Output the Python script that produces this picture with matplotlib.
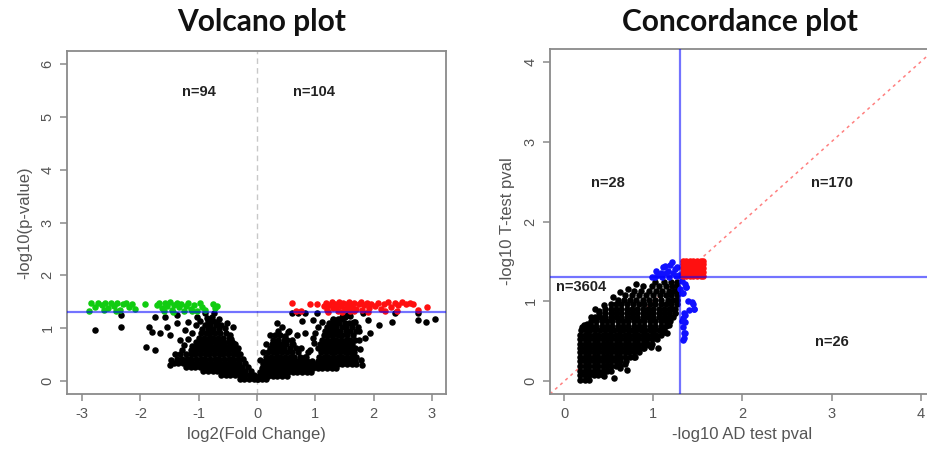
import numpy as np
import matplotlib
matplotlib.use("Agg")
import matplotlib.pyplot as plt

# ---------------- Volcano plot data ----------------
# dense core, rows of (y, [x ...])
volcano_down_core = [
    (0.03, [-0.3, -0.22, -0.14, -0.06, 0.01]),
    (0.11, [-0.62, -0.54, -0.46, -0.38, -0.3, -0.22, -0.14, -0.06]),
    (0.19, [-0.92, -0.84, -0.76, -0.68, -0.6, -0.52, -0.44, -0.36, -0.28, -0.2, -0.11]),
    (0.27, [-1.22, -1.14, -1.06, -0.98, -0.9, -0.82, -0.74, -0.66, -0.58, -0.5, -0.42, -0.34, -0.26, -0.16]),
    (0.34, [-1.43, -1.35, -1.27, -1.19, -1.11, -1.03, -0.95, -0.87, -0.79, -0.71, -0.63, -0.55, -0.47, -0.39, -0.31, -0.21]),
    (0.42, [-1.37, -1.29, -1.21, -1.13, -1.05, -0.97, -0.89, -0.81, -0.73, -0.65, -0.57, -0.49, -0.41, -0.33, -0.25]),
    (0.50, [-1.32, -1.22, -1.14, -1.06, -0.98, -0.9, -0.82, -0.74, -0.66, -0.58, -0.5, -0.42, -0.34, -0.29]),
    (0.58, [-1.28, -1.14, -1.06, -0.98, -0.9, -0.82, -0.74, -0.66, -0.58, -0.5, -0.42, -0.34]),
    (0.66, [-1.12, -1.03, -0.95, -0.87, -0.79, -0.71, -0.63, -0.55, -0.47, -0.39]),
    (0.74, [-1.04, -0.96, -0.88, -0.8, -0.72, -0.64, -0.56, -0.48, -0.43]),
    (0.82, [-1.0, -0.91, -0.83, -0.75, -0.67, -0.59, -0.49]),
    (0.90, [-0.97, -0.88, -0.8, -0.72, -0.63, -0.53]),
    (0.98, [-0.94, -0.84, -0.76, -0.66]),
    (1.06, [-0.9, -0.8, -0.71]),
    (1.14, [-0.85, -0.76]),
]
volcano_up_core = [
    (0.03, [0.0, 0.08, 0.16]),
    (0.10, [0.03, 0.11, 0.19, 0.27, 0.35, 0.43, 0.51]),
    (0.17, [0.05, 0.13, 0.21, 0.29, 0.37, 0.45, 0.53, 0.61, 0.69, 0.77, 0.85, 0.93]),
    (0.24, [0.08, 0.16, 0.24, 0.32, 0.4, 0.48, 0.56, 0.64, 0.72, 0.8, 0.88, 0.96, 1.04, 1.12, 1.2, 1.28, 1.35]),
    (0.31, [0.1, 0.18, 0.26, 0.34, 0.42, 0.5, 0.58, 0.66, 0.74, 0.82, 0.9, 0.98, 1.06, 1.14, 1.22, 1.3, 1.38, 1.46, 1.54, 1.62, 1.7]),
    (0.38, [0.13, 0.21, 0.29, 0.37, 0.45, 0.53, 0.61, 0.69, 0.77, 0.85, 0.95, 1.05, 1.13, 1.21, 1.29, 1.37, 1.44, 1.52, 1.6, 1.68]),
    (0.46, [0.16, 0.24, 0.32, 0.4, 0.48, 0.56, 0.64, 0.73, 0.84, 1.06, 1.14, 1.22, 1.3, 1.38, 1.46, 1.54, 1.62, 1.7]),
    (0.54, [0.19, 0.27, 0.35, 0.43, 0.51, 0.6, 0.7, 0.88, 1.1, 1.18, 1.26, 1.34, 1.42, 1.5, 1.58, 1.66]),
    (0.62, [0.22, 0.3, 0.38, 0.46, 0.56, 0.66, 1.04, 1.12, 1.2, 1.28, 1.36, 1.44, 1.52, 1.6, 1.68]),
    (0.70, [0.25, 0.33, 0.41, 0.5, 0.62, 1.08, 1.16, 1.24, 1.32, 1.4, 1.47, 1.55, 1.63]),
    (0.78, [0.28, 0.36, 0.46, 0.6, 1.12, 1.2, 1.28, 1.36, 1.44, 1.52, 1.6, 1.68]),
    (0.86, [0.31, 0.4, 0.68, 1.14, 1.22, 1.3, 1.38, 1.46, 1.55, 1.64]),
    (0.94, [0.36, 0.55, 1.17, 1.25, 1.33, 1.42, 1.52, 1.6]),
    (1.02, [0.42, 1.04, 1.2, 1.28, 1.36, 1.45, 1.53, 1.62]),
    (1.10, [1.24, 1.32, 1.4, 1.5, 1.58]),
    (1.18, [1.3, 1.39, 1.46]),
]
volcano_scatter_x = [-2.78, -2.33, -2.33, -1.9, -1.75, -1.85, -1.8, -1.75, -1.58, -1.66, -1.54, -1.49,
                     -1.37, -1.37, -1.32, -1.18, -1.23, -0.89, -0.74, -0.41, -0.46, -1.03, -0.86, -0.69,
                     -0.51, -0.41, -1.47, -1.4, -1.25, -1.18, -1.12, -1.05, -0.98, -0.62, -0.55, -0.45,
                     -0.38, -0.33, -1.5, -0.78, -0.66,
                     0.34, 0.77, 0.96, 1.11, 1.3, 1.68, 1.9, 2.32, 2.76, 2.9, 3.05, 2.09, 1.94, 1.85,
                     1.65, 0.96, 0.82, 0.53, 0.51, 0.82, 1.48, 0.27, 1.63, 1.73, 1.34, 1.29, 0.6, 0.7,
                     0.82, 1.03, 1.82, 2.37, 2.76, 1.55, 1.45, 1.6, 1.75, 0.05, 0.1, 0.15, 0.22, 0.48,
                     0.6, 0.75, 0.9, 0.98, 1.0, 1.78, 1.76, 1.74, 1.7, 1.66, 1.5, 1.8]
volcano_scatter_y = [0.97, 1.25, 1.02, 0.64, 0.59, 1.02, 0.93, 1.21, 1.21, 0.91, 1.02, 0.87,
                     1.25, 1.1, 0.78, 1.12, 0.97, 1.29, 1.29, 1.02, 0.87, 1.21, 1.19, 1.12,
                     1.1, 0.72, 0.4, 0.5, 0.68, 0.8, 0.9, 1.05, 1.14, 1.05, 1.0, 0.8,
                     0.7, 0.62, 0.3, 1.2, 1.18,
                     1.1, 1.14, 1.16, 1.12, 1.16, 1.12, 1.16, 1.12, 1.16, 1.12, 1.17, 1.06, 0.91, 0.81,
                     0.49, 0.81, 0.91, 0.93, 0.78, 0.45, 0.36, 0.68, 1.1, 1.02, 1.02, 0.87, 1.29, 1.29,
                     1.29, 1.29, 1.29, 1.29, 1.29, 1.25, 1.2, 1.22, 0.95, 0.4, 0.55, 0.7, 0.86, 0.85,
                     0.7, 0.62, 0.58, 0.72, 0.9, 0.4, 0.6, 0.78, 0.95, 1.12, 1.2, 0.3]
green_x = [-2.88, -2.85, -2.78, -2.72, -2.66, -2.6, -2.55, -2.5, -2.45, -2.4, -2.35, -2.3, -2.25, -2.2,
           -2.15, -2.1, -2.62, -2.42, -1.92, -1.72, -1.68, -1.63, -1.58, -1.54, -1.5, -1.46, -1.42,
           -1.38, -1.34, -1.3, -1.26, -1.22, -1.18, -1.13, -1.08, -1.03, -0.98, -0.95, -0.9, -1.6,
           -1.45, -1.12, -0.75, -0.72, -0.68]
green_y = [1.33, 1.47, 1.4, 1.48, 1.44, 1.48, 1.38, 1.47, 1.42, 1.48, 1.35, 1.45, 1.48, 1.4,
           1.46, 1.36, 1.34, 1.33, 1.45, 1.44, 1.48, 1.38, 1.47, 1.42, 1.49, 1.35, 1.44,
           1.48, 1.39, 1.46, 1.33, 1.42, 1.48, 1.36, 1.44, 1.33, 1.47, 1.4, 1.35, 1.33,
           1.31, 1.32, 1.45, 1.38, 1.42]
red_x = [0.6, 0.91, 1.03, 1.14, 1.18, 1.2, 1.24, 1.28, 1.3, 1.34, 1.38, 1.4, 1.44, 1.48, 1.5, 1.54,
         1.58, 1.6, 1.63, 1.67, 1.7, 1.74, 1.78, 1.8, 1.84, 1.88, 1.92, 1.96, 2.02, 2.08, 2.12, 2.18,
         2.25, 2.3, 2.36, 2.42, 2.48, 2.55, 2.62, 2.68, 2.76, 2.92, 1.22, 1.46, 1.66, 2.2, 2.4, 0.66,
         0.75, 1.55, 1.36, 1.9]
red_y = [1.48, 1.46, 1.46, 1.42, 1.48, 1.35, 1.44, 1.49, 1.38, 1.46, 1.33, 1.49, 1.42, 1.48, 1.36, 1.45,
         1.49, 1.33, 1.41, 1.48, 1.37, 1.45, 1.49, 1.34, 1.43, 1.48, 1.38, 1.46, 1.42, 1.48, 1.36, 1.45,
         1.49, 1.4, 1.47, 1.44, 1.49, 1.46, 1.48, 1.45, 1.34, 1.4, 1.31, 1.31, 1.32, 1.33, 1.33, 1.32,
         1.33, 1.39, 1.4, 1.31]
volcano_counts = ["n=94", "n=104"]

# ---------------- Concordance plot data ----------------
conc_core = [
    (0.02, [0.18, 0.23, 0.28]),
    (0.08, [0.18, 0.23, 0.28, 0.33, 0.38, 0.43]),
    (0.13, [0.18, 0.23, 0.28, 0.33, 0.38, 0.43, 0.48, 0.53]),
    (0.19, [0.18, 0.23, 0.28, 0.33, 0.38, 0.43, 0.48, 0.53, 0.58, 0.63]),
    (0.25, [0.18, 0.23, 0.28, 0.33, 0.38, 0.43, 0.48, 0.53, 0.58, 0.63, 0.69]),
    (0.30, [0.18, 0.23, 0.28, 0.33, 0.38, 0.43, 0.48, 0.53, 0.58, 0.63, 0.68, 0.74, 0.79]),
    (0.36, [0.18, 0.23, 0.28, 0.33, 0.38, 0.43, 0.48, 0.53, 0.58, 0.63, 0.68, 0.73, 0.78, 0.84]),
    (0.41, [0.18, 0.23, 0.28, 0.33, 0.38, 0.43, 0.48, 0.53, 0.58, 0.63, 0.68, 0.73, 0.78, 0.83, 0.9]),
    (0.47, [0.18, 0.23, 0.28, 0.33, 0.38, 0.43, 0.48, 0.53, 0.58, 0.63, 0.68, 0.73, 0.78, 0.83, 0.88, 0.93, 0.99]),
    (0.53, [0.18, 0.23, 0.28, 0.33, 0.38, 0.43, 0.48, 0.53, 0.58, 0.63, 0.68, 0.73, 0.78, 0.83, 0.88, 0.93, 0.98, 1.04]),
    (0.58, [0.18, 0.23, 0.28, 0.33, 0.38, 0.43, 0.48, 0.53, 0.58, 0.63, 0.68, 0.73, 0.78, 0.83, 0.88, 0.93, 0.98, 1.03, 1.09]),
    (0.64, [0.19, 0.24, 0.29, 0.34, 0.4, 0.46, 0.51, 0.56, 0.61, 0.66, 0.71, 0.76, 0.81, 0.86, 0.91, 0.96, 1.01, 1.06, 1.12]),
    (0.69, [0.24, 0.3, 0.36, 0.42, 0.48, 0.54, 0.6, 0.66, 0.72, 0.78, 0.84, 0.9, 0.96, 1.02, 1.08, 1.14]),
    (0.75, [0.3, 0.36, 0.42, 0.48, 0.54, 0.6, 0.66, 0.72, 0.78, 0.84, 0.9, 0.96, 1.02, 1.08, 1.14, 1.19]),
    (0.80, [0.34, 0.4, 0.46, 0.52, 0.58, 0.64, 0.7, 0.76, 0.82, 0.88, 0.94, 1.0, 1.06, 1.12, 1.18, 1.22]),
    (0.86, [0.39, 0.46, 0.52, 0.58, 0.64, 0.7, 0.76, 0.82, 0.88, 0.94, 1.0, 1.06, 1.12, 1.18, 1.24]),
    (0.91, [0.46, 0.52, 0.58, 0.64, 0.7, 0.76, 0.82, 0.88, 0.94, 1.0, 1.06, 1.12, 1.18, 1.24]),
    (0.97, [0.52, 0.58, 0.64, 0.7, 0.77, 0.84, 0.9, 0.96, 1.02, 1.08, 1.14, 1.2, 1.26]),
    (1.02, [0.6, 0.67, 0.74, 0.81, 0.88, 0.95, 1.02, 1.09, 1.16, 1.22, 1.27]),
    (1.08, [0.68, 0.76, 0.84, 0.92, 1.0, 1.07, 1.14, 1.2, 1.26]),
    (1.13, [0.78, 0.86, 0.95, 1.03, 1.1, 1.17, 1.23, 1.28]),
    (1.19, [0.88, 0.98, 1.06, 1.14, 1.21, 1.27]),
    (1.24, [1.02, 1.12, 1.2, 1.26]),
]
conc_scatter_x = [0.56, 0.39, 0.88, 1.05, 0.97, 1.15, 0.2, 0.25, 0.3, 1.22,
                  0.22, 0.35, 0.45, 0.55, 0.62, 0.72, 0.8, 0.45, 0.62, 0.68, 0.78, 0.95,
                  1.12, 1.18, 1.24, 0.7]
conc_scatter_y = [0.04, 0.88, 0.41, 0.41, 0.43, 0.6, 0.68, 0.72, 0.8, 0.9,
                  0.7, 0.9, 0.95, 1.05, 1.12, 1.15, 1.22, 0.06, 0.16, 0.22, 0.3, 0.45,
                  0.62, 0.7, 0.85, 0.14]
conc_blue_x = [0.99, 1.02, 1.05, 1.08, 1.11, 1.14, 1.16, 1.19, 1.21, 1.24, 1.27, 1.29, 1.1, 1.18, 1.25,
               1.03, 1.13, 1.22, 1.32, 1.35, 1.3, 1.33, 1.37, 1.39, 1.44, 1.46, 1.4, 1.34, 1.33, 1.36,
               1.33, 1.34, 1.34, 1.32, 1.35, 1.43, 1.46, 1.35, 1.33, 1.32, 1.37]
conc_blue_y = [1.31, 1.3, 1.33, 1.36, 1.43, 1.35, 1.38, 1.46, 1.49, 1.4, 1.43, 1.33, 1.31, 1.31, 1.32,
               1.38, 1.44, 1.35, 1.26, 1.22, 1.15, 1.1, 1.18, 1.01, 0.97, 0.91, 0.89, 0.85, 0.79, 0.74,
               0.68, 0.6, 0.54, 0.76, 0.83, 0.99, 0.91, 0.6, 0.51, 1.1, 1.18]
conc_red = [
    (1.32, [1.33, 1.37, 1.41, 1.45, 1.49, 1.53, 1.56]),
    (1.37, [1.33, 1.37, 1.41, 1.45, 1.49, 1.53, 1.56]),
    (1.42, [1.33, 1.37, 1.41, 1.45, 1.49, 1.53, 1.56]),
    (1.47, [1.33, 1.37, 1.41, 1.45, 1.49, 1.53, 1.56]),
    (1.50, [1.33, 1.37, 1.41, 1.45, 1.49, 1.53, 1.56]),
]
conc_counts = ["n=28", "n=170", "n=3604", "n=26"]


def flatten(rows):
    xs, ys = [], []
    for y, row in rows:
        xs.extend(row)
        ys.extend([y] * len(row))
    return np.array(xs), np.array(ys)


plt.rcParams['font.family'] = ['Liberation Sans', 'DejaVu Sans']
plt.rcParams['axes.unicode_minus'] = False
W, H = 928, 453
fig = plt.figure(figsize=(W / 100, H / 100), dpi=100)

GRAY = '#555555'
SPINE = '#8a8a8a'
MS = 22


def style_axes(ax):
    for s in ax.spines.values():
        s.set_color(SPINE)
        s.set_linewidth(1.3)
    ax.tick_params(colors=SPINE, labelcolor=GRAY, length=5, width=1.1, labelsize=10.5, pad=4)
    for lab in ax.get_yticklabels():
        lab.set_rotation(90)
        lab.set_va('center')


# ---- left panel ----
ax1 = fig.add_axes([67 / W, 1 - 394 / H, 379 / W, 343 / H])
for rows in (volcano_down_core, volcano_up_core):
    x, y = flatten(rows)
    ax1.scatter(x, y, s=MS, c='black', linewidths=0, zorder=2)
ax1.scatter(volcano_scatter_x, volcano_scatter_y, s=MS, c='black', linewidths=0, zorder=2)
ax1.scatter(green_x, green_y, s=MS, c='#11cc11', linewidths=0, zorder=2)
ax1.scatter(red_x, red_y, s=MS, c='#ff1010', linewidths=0, zorder=2)
ax1.axvline(0, color='#c8c8c8', lw=1.0, ls=(0, (4, 3)), zorder=1)
ax1.axhline(-np.log10(0.05), color='blue', alpha=0.55, lw=1.6, zorder=3)
ax1.set_xlim(-3.26, 3.24)
ax1.set_ylim(-0.25, 6.25)
ax1.set_xticks([-3, -2, -1, 0, 1, 2, 3])
ax1.set_yticks([0, 1, 2, 3, 4, 5, 6])
style_axes(ax1)
ax1.set_xlabel('log2(Fold Change)', color=GRAY, fontsize=12, labelpad=5)
ax1.set_ylabel('-log10(p-value)', color=GRAY, fontsize=12, labelpad=6)
ax1.text(-1.0, 5.47, volcano_counts[0], ha='center', va='center', fontsize=10.5,
         fontweight='bold', color='#222222')
ax1.text(0.98, 5.47, volcano_counts[1], ha='center', va='center', fontsize=10.5,
         fontweight='bold', color='#222222')

# ---- right panel ----
ax2 = fig.add_axes([550 / W, 1 - 394 / H, 385 / W, 345 / H])
x, y = flatten(conc_core)
ax2.scatter(x, y, s=MS, c='black', linewidths=0, zorder=2)
ax2.scatter(conc_scatter_x, conc_scatter_y, s=MS, c='black', linewidths=0, zorder=2)
ax2.scatter(conc_blue_x, conc_blue_y, s=MS, c='#1010ff', linewidths=0, zorder=2)
x, y = flatten(conc_red)
ax2.scatter(x, y, s=MS, c='#ff1010', linewidths=0, zorder=2)
ax2.axline((0, 0), slope=1, color='#ff8080', lw=1.1, ls=(0, (2, 2.5)), zorder=1)
thr = -np.log10(0.05)
ax2.axvline(thr, color='blue', alpha=0.55, lw=1.6, zorder=3)
ax2.axhline(thr, color='blue', alpha=0.55, lw=1.6, zorder=3)
ax2.set_xlim(-0.16, 4.16)
ax2.set_ylim(-0.16, 4.16)
ax2.set_xticks([0, 1, 2, 3, 4])
ax2.set_yticks([0, 1, 2, 3, 4])
style_axes(ax2)
ax2.set_xlabel('-log10 AD test pval', color=GRAY, fontsize=12, labelpad=5)
ax2.set_ylabel('-log10 T-test pval', color=GRAY, fontsize=12, labelpad=6)
for txt, (tx, ty) in zip(conc_counts, [(0.49, 2.48), (3.0, 2.48), (0.19, 1.18), (3.0, 0.49)]):
    ax2.text(tx, ty, txt, ha='center', va='center', fontsize=10.5, fontweight='bold',
             color='#222222')

# ---- titles ----
fig.text(262 / W, 1 - 22 / H, 'Volcano plot', ha='center', va='center', fontsize=21.5,
         fontweight='bold', family=['Lato', 'DejaVu Sans'], color='#111111')
fig.text(740 / W, 1 - 22 / H, 'Concordance plot', ha='center', va='center', fontsize=21.5,
         fontweight='bold', family=['Lato', 'DejaVu Sans'], color='#111111')

fig.savefig('out.png', dpi=100)
